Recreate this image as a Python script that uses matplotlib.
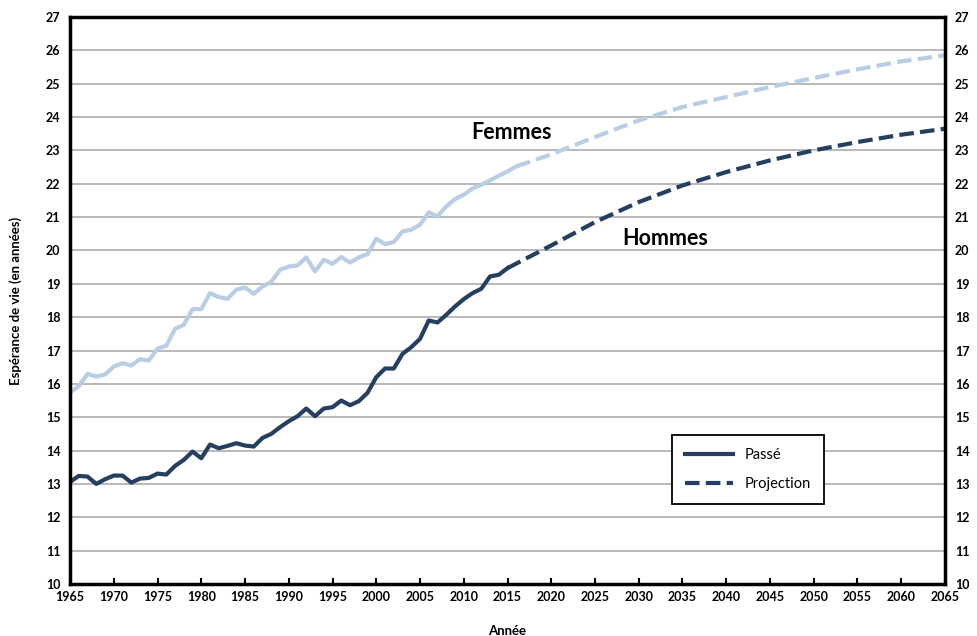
import numpy as np
import matplotlib
matplotlib.use("Agg")
import matplotlib.pyplot as plt

plt.rcParams['font.family'] = ['Lato', 'DejaVu Sans']

# Espérance de vie à 65 ans (en années)
years_past_f = list(range(1965, 2017))
femmes_past = [15.74, 15.93, 16.30, 16.22, 16.28, 16.52, 16.62, 16.55, 16.74, 16.70,
               17.06, 17.14, 17.65, 17.77, 18.24, 18.24, 18.72, 18.60, 18.55, 18.82,
               18.89, 18.70, 18.92, 19.06, 19.42, 19.52, 19.55, 19.79, 19.37, 19.72,
               19.60, 19.80, 19.64, 19.79, 19.89, 20.35, 20.19, 20.25, 20.57, 20.62,
               20.77, 21.14, 21.02, 21.32, 21.54, 21.67, 21.86, 21.97, 22.10, 22.24,
               22.37, 22.52]

years_past_h = list(range(1965, 2016))
hommes_past = [13.06, 13.24, 13.22, 13.00, 13.14, 13.25, 13.25, 13.04, 13.16, 13.18,
               13.31, 13.28, 13.54, 13.72, 13.97, 13.77, 14.18, 14.07, 14.14, 14.22,
               14.15, 14.12, 14.38, 14.50, 14.70, 14.88, 15.03, 15.26, 15.03, 15.26,
               15.30, 15.50, 15.36, 15.48, 15.73, 16.20, 16.46, 16.46, 16.90, 17.10,
               17.35, 17.90, 17.84, 18.07, 18.32, 18.54, 18.72, 18.85, 19.22, 19.27,
               19.47]

years_proj_f = [2016, 2020, 2025, 2030, 2035, 2040, 2045, 2050, 2055, 2060, 2065]
femmes_proj = [22.52, 22.88, 23.40, 23.90, 24.30, 24.60, 24.90, 25.17, 25.43, 25.67, 25.85]

years_proj_h = [2015, 2020, 2025, 2030, 2035, 2040, 2045, 2050, 2055, 2060, 2065]
hommes_proj = [19.47, 20.15, 20.85, 21.45, 21.95, 22.35, 22.70, 23.00, 23.25, 23.47, 23.65]

x_ticks = list(range(1965, 2066, 5))
y_ticks = list(range(10, 28))

dark = '#243f60'
light = '#b9cde5'

fig = plt.figure(figsize=(9.77, 6.36), dpi=100)
ax = fig.add_axes([0.0717, 0.0818, 0.8955, 0.8915])

lw = 3.0
ax.plot(years_past_f, femmes_past, color=light, lw=lw, solid_joinstyle='round')
ax.plot(years_proj_f, femmes_proj, color=light, lw=lw, dashes=(3.5, 1.5))
ax.plot(years_past_h, hommes_past, color=dark, lw=lw, solid_joinstyle='round')
ax.plot(years_proj_h, hommes_proj, color=dark, lw=lw, dashes=(3.5, 1.5))

ax.set_xlim(1965, 2065)
ax.set_ylim(10, 27)
ax.set_xticks(x_ticks)
ax.set_yticks(y_ticks)
ax.grid(axis='y', color='#a6a6a6', lw=1.1)
ax.set_axisbelow(True)

for s in ax.spines.values():
    s.set_linewidth(2.5)
    s.set_color('black')

ax.tick_params(axis='x', direction='in', length=4, width=1.5, pad=5,
               labelsize=9)
ax.tick_params(axis='y', length=0, pad=7, labelsize=9,
               labelleft=True, labelright=True)
for lab in ax.get_xticklabels() + ax.get_yticklabels():
    lab.set_fontweight('bold')

ax.set_xlabel('Année', fontsize=9.5, fontweight='bold', labelpad=16)
ax.set_ylabel('Espérance de vie (en années)', fontsize=9.5, fontweight='bold',
              labelpad=17)

ax.text(2015.4, 23.55, 'Femmes', fontsize=15.5, fontweight='bold',
        ha='center', va='center')
ax.text(2033.0, 20.37, 'Hommes', fontsize=15.5, fontweight='bold',
        ha='center', va='center')

h1, = ax.plot([], [], color=dark, lw=lw)
h2, = ax.plot([], [], color=dark, lw=lw, dashes=(3.5, 1.5))
leg = ax.legend([h1, h2], ['Passé', 'Projection'], loc='upper left',
                bbox_to_anchor=(672 / 977, 1 - 435 / 636),
                bbox_transform=fig.transFigure, fontsize=10.5,
                fancybox=False, edgecolor='black', framealpha=1,
                handlelength=3.3, borderpad=0.9, labelspacing=1.0,
                handletextpad=0.8, borderaxespad=0)
leg.get_frame().set_linewidth(1.3)

fig.savefig('out.png', dpi=100)
